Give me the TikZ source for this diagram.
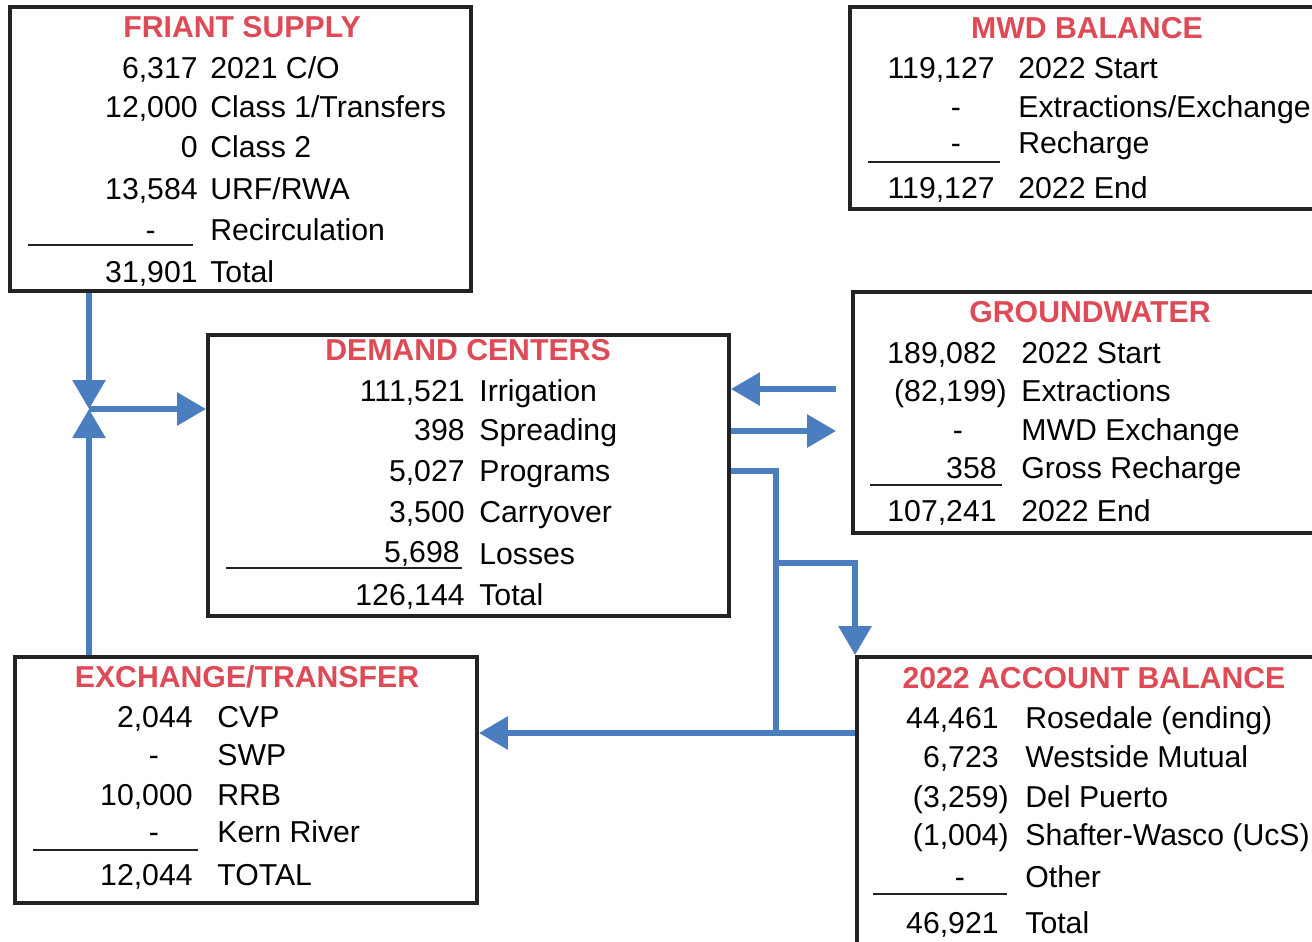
\documentclass[tikz,border=0pt]{standalone}
\usepackage{fontspec}
\setmainfont{Liberation Sans}
\usetikzlibrary{arrows.meta}
\definecolor{flowblue}{RGB}{74,126,190}
\definecolor{headred}{RGB}{222,74,86}
\definecolor{boxline}{RGB}{35,35,35}
\tikzstyle{panel}=[rectangle,draw=boxline,line width=0.08cm,fill=white,inner sep=0pt]
\tikzstyle{head}=[anchor=base,inner sep=0pt,text=headred,font=\fontsize{17.2}{20}\selectfont\bfseries]
\tikzstyle{num}=[anchor=base east,inner sep=0pt,font=\fontsize{17.2}{20}\selectfont]
\tikzstyle{lbl}=[anchor=base west,inner sep=0pt,font=\fontsize{17.2}{20}\selectfont]
\tikzstyle{rule}=[draw=boxline,line width=0.05cm]
\tikzstyle{pipe}=[draw=flowblue,line width=0.12cm]
\tikzstyle{flow}=[-{Triangle[length=0.58cm,width=0.64cm]},draw=flowblue,line width=0.12cm]

\begin{document}
\begin{tikzpicture}[x=0.02cm,y=-0.02cm]
  \useasboundingbox (0,0) rectangle (1312,941);
  \clip (0,0) rectangle (1312,941);

  % boxes
  \node[panel,minimum width=9.22cm,minimum height=5.68cm] (friant) at (240.5,149) {};
  \node[panel,minimum width=9.80cm,minimum height=4.04cm] (mwd) at (1095,108) {};
  \node[panel,minimum width=9.74cm,minimum height=4.82cm] (gw) at (1096.5,412.5) {};
  \node[panel,minimum width=10.42cm,minimum height=5.62cm] (demand) at (468.5,475.5) {};
  \node[panel,minimum width=9.24cm,minimum height=4.92cm] (exch) at (246,780) {};
  \node[panel,minimum width=9.66cm,minimum height=6.26cm] (acct) at (1098.5,813.5) {};

  % friant supply
  \node[head] (fh) at (242,37) {FRIANT SUPPLY};
  \node[num] (f1v) at (198,78) {6,317};  \node[lbl] (f1l) at (210,78) {2021 C/O};
  \node[num] (f2v) at (198,117) {12,000}; \node[lbl] (f2l) at (210,117) {Class 1/Transfers};
  \node[num] (f3v) at (198,157) {0};      \node[lbl] (f3l) at (210,157) {Class 2};
  \node[num] (f4v) at (198,199) {13,584}; \node[lbl] (f4l) at (210,199) {URF/RWA};
  \node[num] (f5v) at (198,240) {-\hphantom{00,}}; \node[lbl] (f5l) at (210,240) {Recirculation};
  \node[num] (f6v) at (198,282) {31,901}; \node[lbl] (f6l) at (210,282) {Total};
  \draw[rule] (28,245) -- (193,245);

  % mwd balance
  \node[head] (mh) at (1087,38) {MWD BALANCE};
  \node[num] (m1v) at (995,78) {119,127}; \node[lbl] (m1l) at (1018,78) {2022 Start};
  \node[num] (m2v) at (995,117) {-\hphantom{00}}; \node[lbl] (m2l) at (1018,117) {Extractions/Exchange};
  \node[num] (m3v) at (995,153) {-\hphantom{00}}; \node[lbl] (m3l) at (1018,153) {Recharge};
  \node[num] (m4v) at (995,198) {119,127}; \node[lbl] (m4l) at (1018,198) {2022 End};
  \draw[rule] (868,162) -- (1000,162);

  % groundwater
  \node[head] (gh) at (1090,322) {GROUNDWATER};
  \node[num] (g1v) at (997,363) {189,082}; \node[lbl] (g1l) at (1021,363) {2022 Start};
  \node[num] (g2v) at (997,401) {(82,199\rlap{)}}; \node[lbl] (g2l) at (1021,401) {Extractions};
  \node[num] (g3v) at (997,440) {-\hphantom{00}}; \node[lbl] (g3l) at (1021,440) {MWD Exchange};
  \node[num] (g4v) at (997,478) {358};     \node[lbl] (g4l) at (1021,478) {Gross Recharge};
  \node[num] (g5v) at (997,521) {107,241}; \node[lbl] (g5l) at (1021,521) {2022 End};
  \draw[rule] (870,485) -- (1002,485);

  % demand centers
  \node[head] (dh) at (468,360) {DEMAND CENTERS};
  \node[num] (d1v) at (465,401) {111,521}; \node[lbl] (d1l) at (479,401) {Irrigation};
  \node[num] (d2v) at (465,440) {398};     \node[lbl] (d2l) at (479,440) {Spreading};
  \node[num] (d3v) at (465,481) {5,027};   \node[lbl] (d3l) at (479,481) {Programs};
  \node[num] (d4v) at (465,522) {3,500};   \node[lbl] (d4l) at (479,522) {Carryover};
  \node[num] (d5v) at (460,562) {5,698};   \node[lbl] (d5l) at (479,564) {Losses};
  \node[num] (d6v) at (465,605) {126,144}; \node[lbl] (d6l) at (479,605) {Total};
  \draw[rule] (226,568) -- (462,568);

  % exchange/transfer
  \node[head] (eh) at (247,687) {EXCHANGE/TRANSFER};
  \node[num] (e1v) at (193,727) {2,044};  \node[lbl] (e1l) at (217,727) {CVP};
  \node[num] (e2v) at (193,765) {-\hphantom{00}}; \node[lbl] (e2l) at (217,765) {SWP};
  \node[num] (e3v) at (193,805) {10,000}; \node[lbl] (e3l) at (217,805) {RRB};
  \node[num] (e4v) at (193,842) {-\hphantom{00}}; \node[lbl] (e4l) at (217,842) {Kern River};
  \node[num] (e5v) at (193,885) {12,044}; \node[lbl] (e5l) at (217,885) {TOTAL};
  \draw[rule] (33,850) -- (198,850);

  % 2022 account balance
  \node[head] (ah) at (1094,688) {2022 ACCOUNT BALANCE};
  \node[num] (a1v) at (999,728) {44,461}; \node[lbl] (a1l) at (1025,728) {Rosedale (ending)};
  \node[num] (a2v) at (999,767) {6,723};  \node[lbl] (a2l) at (1025,767) {Westside Mutual};
  \node[num] (a3v) at (999,807) {(3,259\rlap{)}}; \node[lbl] (a3l) at (1025,807) {Del Puerto};
  \node[num] (a4v) at (999,845) {(1,004\rlap{)}}; \node[lbl] (a4l) at (1025,845) {Shafter-Wasco (UcS)};
  \node[num] (a5v) at (999,887) {-\hphantom{00}}; \node[lbl] (a5l) at (1025,887) {Other};
  \node[num] (a6v) at (999,933) {46,921}; \node[lbl] (a6l) at (1025,933) {Total};
  \draw[rule] (873,894) -- (1007,894);

  % flows
  \coordinate (jn) at (89,409);
  \coordinate (gwin) at (0,389);
  \coordinate (gwout) at (0,431);
  \coordinate (tee) at (776,471);
  \coordinate (tee2) at (776,563);
  \coordinate (bus) at (776,733);
  \draw[flow] (friant.south -| jn) -- (jn);
  \draw[flow] (exch.north -| jn) -- (jn);
  \draw[flow] (jn) -- (jn -| demand.west);
  \draw[flow,shorten <=0.3cm] (gw.west |- gwin) -- (demand.east |- gwin);
  \draw[flow,shorten >=0.3cm] (demand.east |- gwout) -- (gw.west |- gwout);
  \draw[pipe] (demand.east |- tee) -- (tee) -- (bus);
  \draw[flow] (tee2) -| (acct.north west);
  \draw[flow] (acct.west |- bus) -- (exch.east |- bus);

\end{tikzpicture}
\end{document}
